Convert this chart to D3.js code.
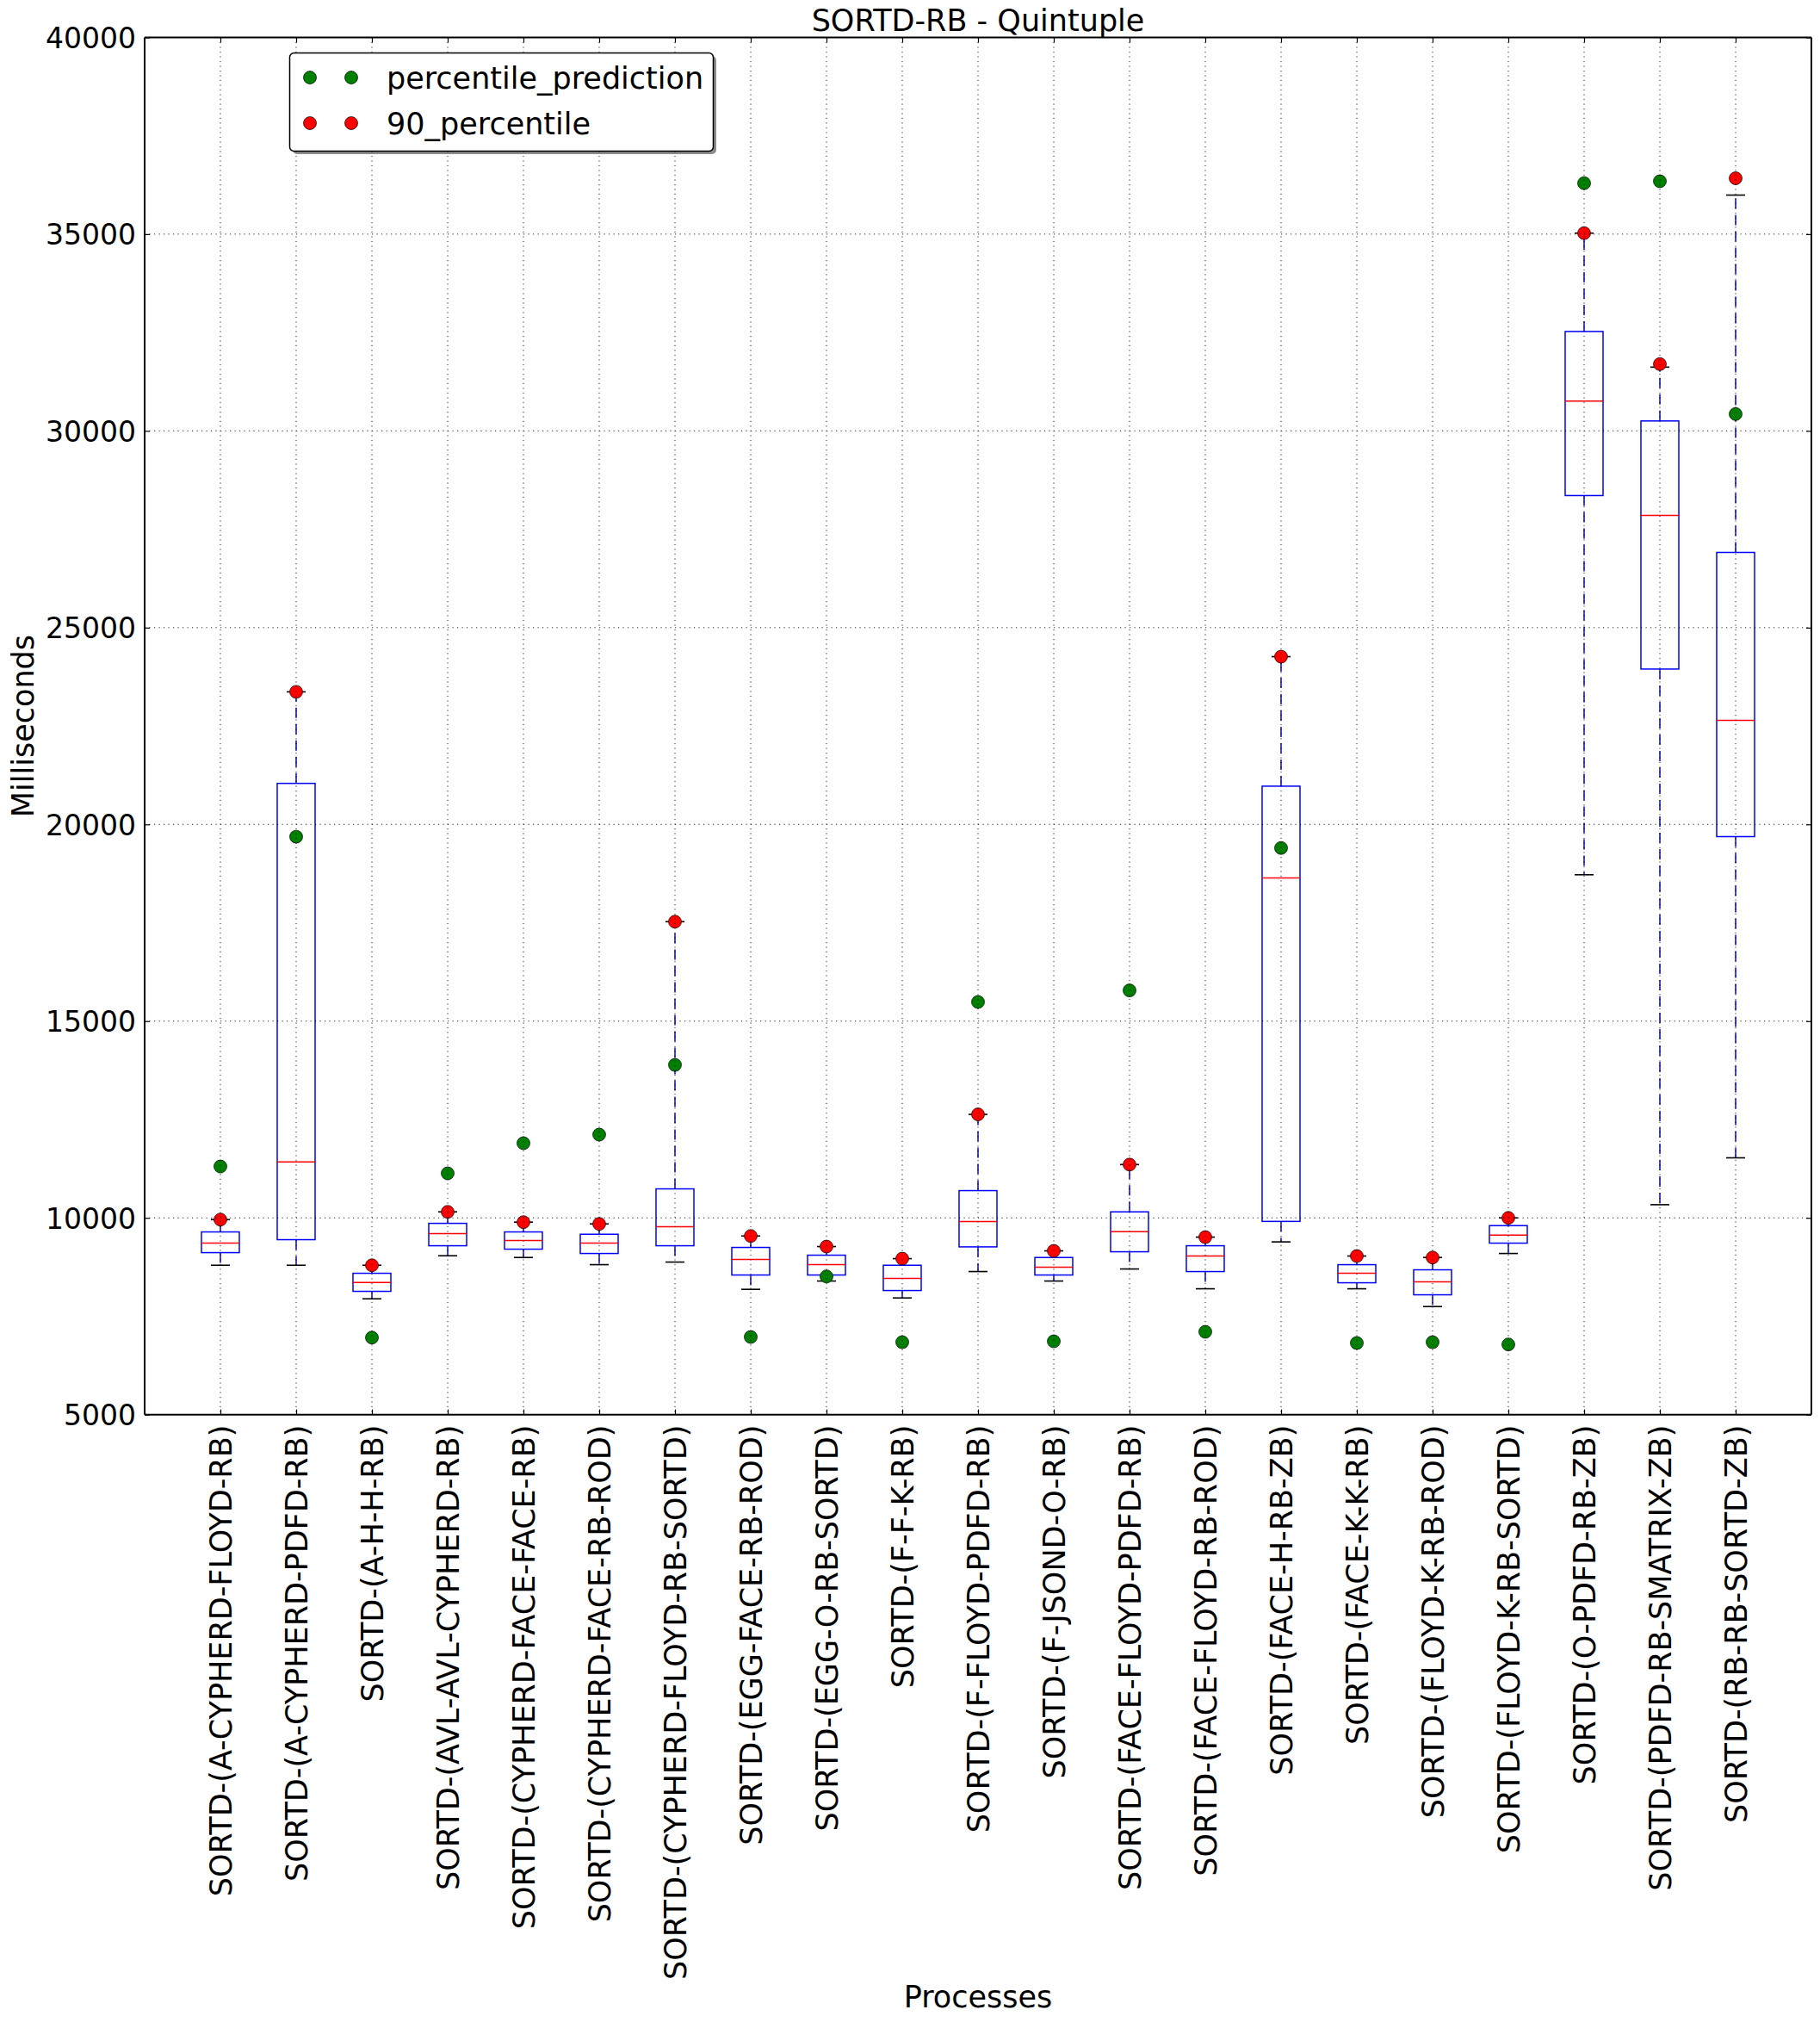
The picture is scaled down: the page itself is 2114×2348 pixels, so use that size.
<!DOCTYPE html>
<html>
<head>
<meta charset="utf-8">
<script src="https://cdn.jsdelivr.net/npm/d3@7"></script>
<style>
  html, body { margin: 0; padding: 0; background: #fff; }
  svg { display: block; font-family: "DejaVu Sans", sans-serif; }
</style>
</head>
<body>
<svg id="chart" width="2114" height="2348"></svg>
<script>
const categories = [
  "SORTD-(A-CYPHERD-FLOYD-RB)", "SORTD-(A-CYPHERD-PDFD-RB)", "SORTD-(A-H-H-RB)",
  "SORTD-(AVL-AVL-CYPHERD-RB)", "SORTD-(CYPHERD-FACE-FACE-RB)", "SORTD-(CYPHERD-FACE-RB-ROD)",
  "SORTD-(CYPHERD-FLOYD-RB-SORTD)", "SORTD-(EGG-FACE-RB-ROD)", "SORTD-(EGG-O-RB-SORTD)",
  "SORTD-(F-F-K-RB)", "SORTD-(F-FLOYD-PDFD-RB)", "SORTD-(F-JSOND-O-RB)",
  "SORTD-(FACE-FLOYD-PDFD-RB)", "SORTD-(FACE-FLOYD-RB-ROD)", "SORTD-(FACE-H-RB-ZB)",
  "SORTD-(FACE-K-K-RB)", "SORTD-(FLOYD-K-RB-ROD)", "SORTD-(FLOYD-K-RB-SORTD)",
  "SORTD-(O-PDFD-RB-ZB)", "SORTD-(PDFD-RB-SMATRIX-ZB)", "SORTD-(RB-RB-SORTD-ZB)"
];
const whiskerLow  = [8796, 8796, 7943, 9037, 8993, 8811, 8877, 8184, 8395, 7965, 8636, 8395, 8701, 8198, 9390, 8198, 7746, 9095, 18720, 10335, 11526];
const q1          = [9117, 9446, 8133, 9292, 9205, 9095, 9292, 8548, 8548, 8154, 9263, 8548, 9139, 8636, 9910, 8351, 8045, 9358, 28356, 23947, 19689];
const median      = [9358, 11423, 8359, 9599, 9424, 9358, 9774, 8942, 8811, 8461, 9905, 8745, 9647, 9030, 18640, 8592, 8373, 9560, 30755, 27853, 22641];
const q3          = [9643, 21042, 8592, 9861, 9643, 9584, 10737, 9249, 9052, 8796, 10693, 8993, 10153, 9292, 20971, 8811, 8680, 9803, 32526, 30252, 26911];
const whiskerHigh = [9956, 23368, 8796, 10153, 9891, 9847, 17527, 9540, 9271, 8964, 12630, 9161, 11355, 9511, 24262, 9030, 8993, 10000, 35025, 31620, 35992];
const percentile90 = [9956, 23368, 8796, 10153, 9891, 9847, 17527, 9540, 9271, 8964, 12630, 9161, 11355, 9511, 24262, 9030, 8993, 10000, 35025, 31697, 36419];
const prediction   = [11306, 19686, 6958, 11131, 11897, 12116, 13887, 6973, 8512, 6841, 15486, 6863, 15780, 7104, 19400, 6819, 6841, 6783, 36294, 36344, 30428];
const yTicks = [5000, 10000, 15000, 20000, 25000, 30000, 35000, 40000];
const seriesNames = ["percentile_prediction", "90_percentile"];

const plotL = 168, plotR = 2104, plotT = 43.4, plotB = 1642.7;
const FONT = 35;
const YFONT = 33;

const svg = d3.select("#chart");
const x = d3.scalePoint().domain(categories).range([plotL, plotR]).padding(1);
const y = d3.scaleLinear().domain([5000, 40000]).range([plotB, plotT]);
const step = x.step();
const boxW = step * 0.5;
const capW = step * 0.25;

const rows = categories.map((c, i) => ({
  c, lo: whiskerLow[i], q1: q1[i], med: median[i], q3: q3[i], hi: whiskerHigh[i],
  p90: percentile90[i], pred: prediction[i]
}));

// boxes
const g = svg.append("g");
const bx = g.selectAll("g.box").data(rows).join("g").attr("class", "box");
bx.append("line").attr("x1", d => x(d.c)).attr("x2", d => x(d.c))
  .attr("y1", d => y(d.q3)).attr("y2", d => y(d.hi))
  .attr("stroke", "#0000ff").attr("stroke-width", 1.5).attr("stroke-dasharray", "12,7");
bx.append("line").attr("x1", d => x(d.c)).attr("x2", d => x(d.c))
  .attr("y1", d => y(d.q1)).attr("y2", d => y(d.lo))
  .attr("stroke", "#0000ff").attr("stroke-width", 1.5).attr("stroke-dasharray", "12,7");
bx.append("line").attr("x1", d => x(d.c) - capW / 2).attr("x2", d => x(d.c) + capW / 2)
  .attr("y1", d => y(d.hi)).attr("y2", d => y(d.hi)).attr("stroke", "#000").attr("stroke-width", 1.6);
bx.append("line").attr("x1", d => x(d.c) - capW / 2).attr("x2", d => x(d.c) + capW / 2)
  .attr("y1", d => y(d.lo)).attr("y2", d => y(d.lo)).attr("stroke", "#000").attr("stroke-width", 1.6);
bx.append("rect").attr("x", d => x(d.c) - boxW / 2).attr("width", boxW)
  .attr("y", d => y(d.q3)).attr("height", d => y(d.q1) - y(d.q3))
  .attr("fill", "none").attr("stroke", "#0000ff").attr("stroke-width", 1.5);
bx.append("line").attr("x1", d => x(d.c) - boxW / 2).attr("x2", d => x(d.c) + boxW / 2)
  .attr("y1", d => y(d.med)).attr("y2", d => y(d.med)).attr("stroke", "#ff0000").attr("stroke-width", 1.5);

// points
g.selectAll("circle.pred").data(rows).join("circle").attr("class", "pred")
  .attr("cx", d => x(d.c)).attr("cy", d => y(d.pred)).attr("r", 7.5)
  .attr("fill", "#008000").attr("stroke", "#000").attr("stroke-width", 0.7);
g.selectAll("circle.p90").data(rows).join("circle").attr("class", "p90")
  .attr("cx", d => x(d.c)).attr("cy", d => y(d.p90)).attr("r", 7.5)
  .attr("fill", "#ff0000").attr("stroke", "#000").attr("stroke-width", 0.7);

// grid (drawn on top, classic style)
const grid = svg.append("g").attr("stroke", "#000").attr("stroke-width", 1).attr("stroke-dasharray", "1.2,4.3").attr("opacity", 0.85);
grid.selectAll("line.h").data(yTicks.slice(1, -1)).join("line").attr("class", "h")
  .attr("x1", plotL).attr("x2", plotR).attr("y1", d => y(d)).attr("y2", d => y(d));
grid.selectAll("line.v").data(categories).join("line").attr("class", "v")
  .attr("x1", d => x(d)).attr("x2", d => x(d)).attr("y1", plotT).attr("y2", plotB);

// axes
function styleAxis(sel, fs) {
  sel.select(".domain").attr("stroke", "#000").attr("stroke-width", 2);
  sel.selectAll(".tick line").attr("stroke", "#000").attr("stroke-width", 1.2);
  sel.selectAll(".tick text").attr("fill", "#000").style("font-size", fs + "px").style("font-family", "DejaVu Sans");
}
const axL = svg.append("g").attr("transform", `translate(${plotL},0)`)
  .call(d3.axisLeft(y).tickValues(yTicks).tickFormat(d3.format("d")).tickSize(-6).tickSizeOuter(0).tickPadding(10));
styleAxis(axL, YFONT);
axL.selectAll(".tick text").attr("dy", "0.36em");
const axR = svg.append("g").attr("transform", `translate(${plotR},0)`)
  .call(d3.axisRight(y).tickValues(yTicks).tickFormat("").tickSize(-6).tickSizeOuter(0));
styleAxis(axR, YFONT);
const axT = svg.append("g").attr("transform", `translate(0,${plotT})`)
  .call(d3.axisTop(x).tickFormat("").tickSize(-6).tickSizeOuter(0));
styleAxis(axT, FONT);
axT.select(".domain").attr("d", `M${plotL},0H${plotR}`);
const axB = svg.append("g").attr("transform", `translate(0,${plotB})`)
  .call(d3.axisBottom(x).tickSize(-6).tickSizeOuter(0));
styleAxis(axB, FONT);
axB.select(".domain").attr("d", `M${plotL},0H${plotR}`);
axL.select(".domain").attr("d", `M0,${plotB}V${plotT}`);
axR.select(".domain").attr("d", `M0,${plotB}V${plotT}`);
axB.selectAll(".tick text")
  .attr("transform", "rotate(-90)").attr("x", -12).attr("y", 0).attr("dy", "0.36em")
  .attr("text-anchor", "end");

// title & labels
svg.append("text").attr("x", (plotL + plotR) / 2).attr("y", 36).attr("text-anchor", "middle")
  .style("font-size", FONT + "px").text("SORTD-RB - Quintuple");
svg.append("text").attr("x", (plotL + plotR) / 2).attr("y", 2331).attr("text-anchor", "middle")
  .style("font-size", FONT + "px").text("Processes");
svg.append("text").attr("transform", `translate(39,${(plotT + plotB) / 2}) rotate(-90)`)
  .attr("text-anchor", "middle").style("font-size", FONT + "px").text("Milliseconds");

// legend
const lg = svg.append("g");
lg.append("rect").attr("x", 340).attr("y", 65).attr("width", 492).attr("height", 114).attr("rx", 5)
  .attr("fill", "#000").attr("opacity", 0.45);
lg.append("rect").attr("x", 336.5).attr("y", 61.5).attr("width", 492).attr("height", 114).attr("rx", 5)
  .attr("fill", "#fff").attr("stroke", "#000").attr("stroke-width", 1.5);
const legendColors = ["#008000", "#ff0000"];
seriesNames.forEach((name, i) => {
  const cy = 90 + i * 53;
  [360, 408].forEach(cx => lg.append("circle").attr("cx", cx).attr("cy", cy).attr("r", 7.5)
    .attr("fill", legendColors[i]).attr("stroke", "#000").attr("stroke-width", 0.7));
  lg.append("text").attr("x", 449).attr("y", cy).attr("dy", "0.36em")
    .style("font-size", FONT + "px").text(name);
});
</script>
</body>
</html>
